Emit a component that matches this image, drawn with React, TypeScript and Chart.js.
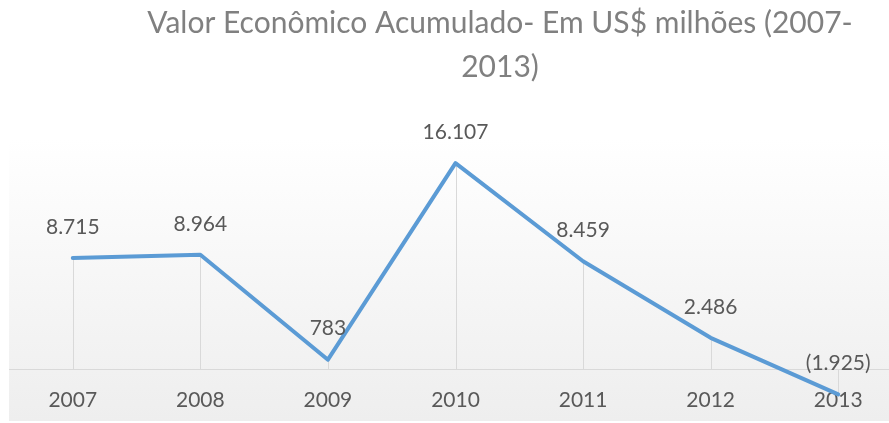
import React, { useEffect, useRef } from "react";
import { Chart, registerables } from "chart.js";

Chart.register(...registerables);

const years = ["2007", "2008", "2009", "2010", "2011", "2012", "2013"];
const values = [8715, 8964, 783, 16107, 8459, 2486, -1925];
const titleLines = ["Valor Econômico Acumulado- Em US$ milhões (2007-", "2013)"];

const yMin = -4000;
const yMax = 18000;

function fmt(v: number): string {
  const s = String(Math.abs(v)).replace(/\B(?=(\d{3})+(?!\d))/g, ".");
  return v < 0 ? `(${s})` : s;
}

const bgPlugin = {
  id: "bgGradient",
  beforeDraw(chart: any) {
    const { ctx, chartArea } = chart;
    if (!chartArea) return;
    const g = ctx.createLinearGradient(0, chartArea.top, 0, chartArea.bottom);
    g.addColorStop(0, "#ffffff");
    g.addColorStop(1, "#eeeeee");
    ctx.save();
    ctx.fillStyle = g;
    ctx.fillRect(chartArea.left, chartArea.top, chartArea.right - chartArea.left, chartArea.bottom - chartArea.top);
    ctx.restore();
  },
};

const dropPlugin = {
  id: "dropLines",
  beforeDatasetsDraw(chart: any) {
    const { ctx } = chart;
    const meta = chart.getDatasetMeta(0);
    const zeroY = chart.scales.y.getPixelForValue(0);
    ctx.save();
    ctx.strokeStyle = "#d9d9d9";
    ctx.lineWidth = 1;
    meta.data.forEach((pt: any) => {
      const x = Math.round(pt.x) + 0.5;
      ctx.beginPath();
      ctx.moveTo(x, zeroY);
      ctx.lineTo(x, pt.y);
      ctx.stroke();
    });
    ctx.restore();
  },
};

const labelPlugin = {
  id: "valueLabels",
  afterDatasetsDraw(chart: any) {
    const { ctx } = chart;
    const meta = chart.getDatasetMeta(0);
    ctx.save();
    ctx.font = "21px Lato";
    ctx.fillStyle = "#595959";
    ctx.textAlign = "center";
    ctx.textBaseline = "middle";
    meta.data.forEach((pt: any, i: number) => {
      ctx.fillText(fmt(values[i]), pt.x, pt.y - 31);
    });
    ctx.restore();
  },
};

export default function App() {
  const ref = useRef<HTMLCanvasElement>(null);

  useEffect(() => {
    if (!ref.current) return;
    const chart = new Chart(ref.current, {
      type: "line",
      data: {
        labels: years,
        datasets: [
          {
            data: values,
            borderColor: "#5B9BD5",
            borderWidth: 4,
            pointRadius: 0,
            tension: 0,
            borderJoinStyle: "round",
            borderCapStyle: "round",
            fill: false,
          },
        ],
      },
      options: {
        animation: false,
        responsive: false,
        devicePixelRatio: 1,
        layout: { padding: { left: 9, right: 0, top: 0, bottom: 2 } },
        plugins: {
          legend: { display: false },
          tooltip: { enabled: false },
          title: {
            display: true,
            text: titleLines,
            color: "#808080",
            font: { family: "Lato", size: 30, weight: "normal", lineHeight: 1.457 },
            padding: { top: 1.5, bottom: 50 },
          },
        },
        scales: {
          x: {
            type: "category",
            position: { y: 0 },
            offset: true,
            grid: { display: false, drawTicks: false },
            border: { display: true, color: "#d9d9d9", width: 1 },
            ticks: {
              color: "#595959",
              font: { family: "Lato", size: 21 },
              padding: 18,
              maxRotation: 0,
              autoSkip: false,
            },
          },
          y: {
            display: false,
            min: yMin,
            max: yMax,
          },
          y2: {
            position: "right",
            display: true,
            grid: { display: false },
            border: { display: false },
            ticks: { display: false },
            afterFit(s: any) {
              s.width = 89;
            },
          },
        },
      },
      plugins: [bgPlugin, dropPlugin, labelPlugin],
    } as any);
    return () => chart.destroy();
  }, []);

  return (
    <div style={{ position: "fixed", left: 0, top: 0, width: 889, height: 423, overflow: "hidden", background: "#ffffff" }}>
      <canvas ref={ref} width={991} height={423} style={{ width: 991, height: 423, display: "block" }} />
    </div>
  );
}
